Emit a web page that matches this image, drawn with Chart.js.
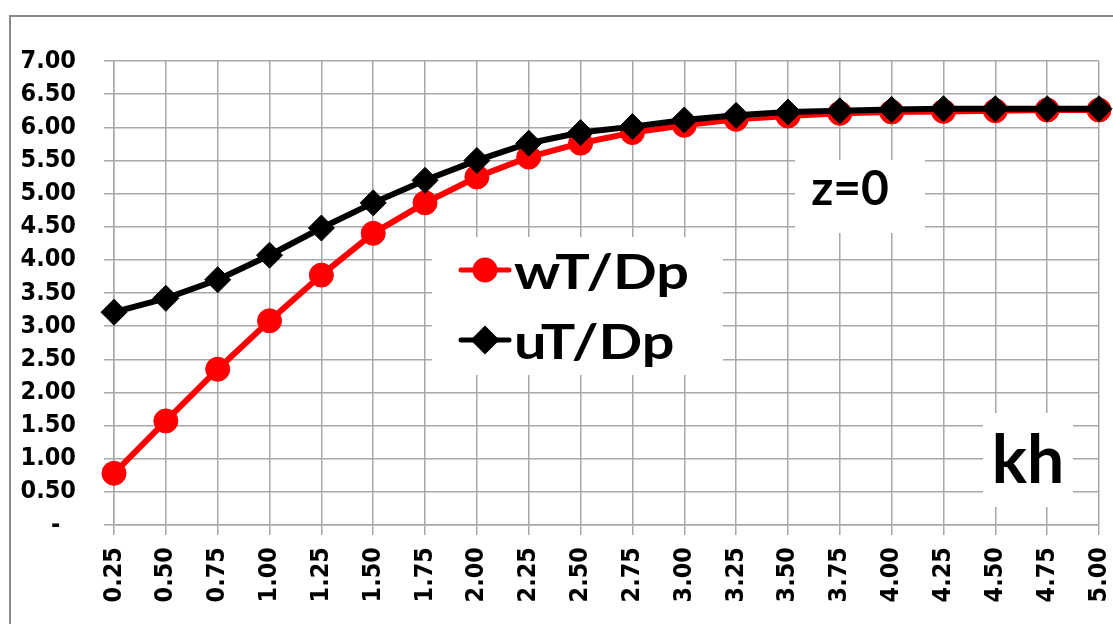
<!DOCTYPE html>
<html>
<head>
<meta charset="utf-8">
<script src="https://cdn.jsdelivr.net/npm/chart.js@4/dist/chart.umd.min.js"></script>
<style>
  body { margin: 0; background: #fff; overflow: hidden; }
  #wrap { position: relative; width: 1113px; height: 624px; }
  #frame { position: absolute; left: 9px; top: 15px; width: 1200px; height: 700px;
           border-left: 2px solid #8a8a8a; border-top: 2px solid #8a8a8a; pointer-events: none; }
</style>
</head>
<body>
<div id="wrap">
  <div id="frame"></div>
  <canvas id="myChart"></canvas>
</div>
<script>
// kh values along the bottom axis
const khLabels = ['0.25', '0.50', '0.75', '1.00', '1.25', '1.50', '1.75', '2.00', '2.25', '2.50',
                  '2.75', '3.00', '3.25', '3.50', '3.75', '4.00', '4.25', '4.50', '4.75', '5.00']

// series
const wTDp = [0.78, 1.57, 2.35, 3.08, 3.77, 4.40, 4.86, 5.25, 5.55, 5.76,
              5.92, 6.03, 6.12, 6.17, 6.21, 6.23, 6.24, 6.25, 6.26, 6.26]
const uTDp = [3.21, 3.42, 3.70, 4.07, 4.48, 4.86, 5.20, 5.50, 5.76, 5.92,
              6.01, 6.11, 6.18, 6.23, 6.25, 6.27, 6.28, 6.28, 6.28, 6.28]

const seriesNames = ['wT/Dp', 'uT/Dp']
const yMin = 0
const yMax = 7
const yStep = 0.5

const GRID = '#a8a8a8'
const tickFont = { family: '"DejaVu Sans Condensed", "DejaVu Sans"', size: 25, weight: 'bold' }
const noteFont = 'Lato'

// white boxes with the big labels inside the plot
const notes = {
    id: 'notes',
    beforeDatasetsDraw(chart) {
        const ctx = chart.ctx
        ctx.save()
        ctx.fillStyle = '#fff'
        ctx.fillRect(432, 237, 291, 138)  // legend
        ctx.fillRect(795, 160, 130, 73)   // z=0
        ctx.fillRect(983, 413, 90, 94)    // kh
        ctx.restore()
    },
    afterDatasetsDraw(chart) {
        const ctx = chart.ctx
        ctx.save()
        ctx.fillStyle = '#000'
        ctx.textBaseline = 'alphabetic'

        // legend, in dataset order
        const rows = [270, 340]
        chart.data.datasets.forEach(function (ds, i) {
            const y = rows[i]
            ctx.strokeStyle = ds.borderColor
            ctx.lineWidth = 5
            ctx.lineCap = 'round'
            ctx.beginPath()
            ctx.moveTo(461, y)
            ctx.lineTo(509, y)
            ctx.stroke()
            ctx.fillStyle = ds.pointBackgroundColor
            ctx.strokeStyle = ds.pointBorderColor
            Chart.helpers.drawPoint(ctx, {
                pointStyle: ds.pointStyle, radius: ds.pointStyle === 'circle' ? 10 : 11,
                rotation: 0, borderWidth: 1
            }, 485, y)
            ctx.fillStyle = '#000'
            ctx.save()
            ctx.translate(514, y + 19)
            ctx.scale(1.2, 1)
            ctx.font = 'bold 48px ' + noteFont
            ctx.textAlign = 'left'
            ctx.fillText(ds.label, 0, 0)
            ctx.restore()
        })

        ctx.textAlign = 'center'
        ctx.font = 'bold 48px ' + noteFont
        ctx.fillText('z=0', 850, 205)
        ctx.font = 'bold 66px ' + noteFont
        ctx.fillText('kh', 1028, 483)
        ctx.restore()
    }
}

let ctx = document.getElementById('myChart')
let myChart = new Chart(ctx, {
    type: 'line',
    data: {
        labels: khLabels,
        datasets: [{
            label: seriesNames[0],
            data: wTDp,
            borderColor: '#ff0000',
            backgroundColor: '#ff0000',
            pointBackgroundColor: '#ff0000',
            pointBorderColor: '#ff0000',
            pointStyle: 'circle',
            pointRadius: 12,
            pointBorderWidth: 1,
            borderWidth: 6,
            order: 1
        }, {
            label: seriesNames[1],
            data: uTDp,
            borderColor: '#000000',
            backgroundColor: '#000000',
            pointBackgroundColor: '#000000',
            pointBorderColor: '#000000',
            pointStyle: 'rectRot',
            pointRadius: 13,
            pointBorderWidth: 1,
            borderWidth: 6,
            order: 0
        }]
    },
    options: {
        responsive: true,
        maintainAspectRatio: false,
        animation: false,
        layout: { padding: { left: 0, top: 61, right: 5, bottom: 0 } },
        plugins: {
            legend: { display: false },
            tooltip: { enabled: false }
        },
        scales: {
            x: {
                offset: false,
                grid: { color: GRID, lineWidth: 1.5, tickLength: 10, tickColor: GRID },
                border: { color: GRID, width: 1.5 },
                ticks: {
                    color: '#000', font: tickFont, padding: 12,
                    minRotation: 90, maxRotation: 90, autoSkip: false
                },
                afterFit(scale) {
                    scale.height = 99
                    scale.paddingLeft = 0
                    scale.paddingRight = 0
                }
            },
            y: {
                min: yMin,
                max: yMax,
                grid: { color: GRID, lineWidth: 1.5, tickLength: 10, tickColor: GRID },
                border: { color: GRID, width: 1.5 },
                ticks: {
                    stepSize: yStep, color: '#000', font: tickFont, padding: 28, autoSkip: false,
                    callback: function (value) {
                        return value === 0 ? '-  ' : value.toFixed(2)
                    }
                },
                afterFit(scale) {
                    scale.width = 114
                }
            }
        }
    },
    plugins: [notes]
});
</script>
</body>
</html>
